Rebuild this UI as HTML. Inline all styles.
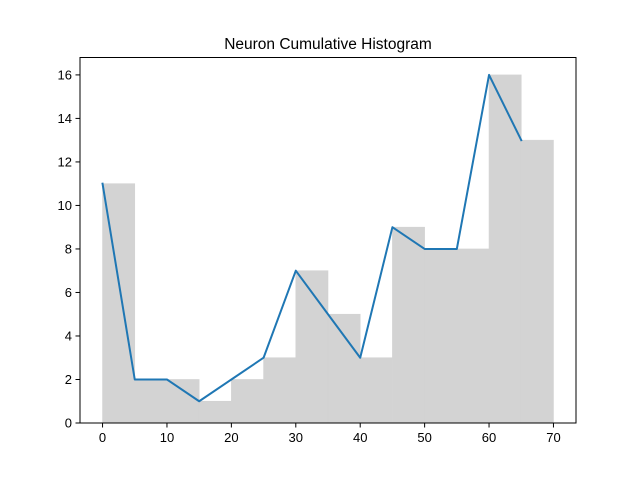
<!DOCTYPE html>
<html><head><meta charset="utf-8"><style>
body{margin:0;background:#fff;}
svg text{font-family:"Liberation Sans","DejaVu Sans",sans-serif;}
</style></head><body>
<svg id="chart" width="640" height="476" viewBox="0 0 640 476" xmlns="http://www.w3.org/2000/svg">
<rect x="0" y="0" width="640" height="476" fill="#fff"/>
<text x="328" y="49" text-anchor="middle" font-size="15.5" fill="#000">Neuron Cumulative Histogram</text>
<g id="bars"></g>
<g id="line"></g>
<g id="xticks"></g>
<g id="yticks"></g>
<rect x="80" y="57.5" width="496" height="365.5" fill="none" stroke="#000" stroke-width="1"/>
</svg>
<script>
const binStarts = [0,5,10,15,20,25,30,35,40,45,50,55,60,65];
const counts = [11,2,2,1,2,3,7,5,3,9,8,8,16,13];
const binWidth = 5;
const xTicks = [0,10,20,30,40,50,60,70];
const yTicks = [0,2,4,6,8,10,12,14,16];

const L=80,R=576,T=57.5,B=423;
const xMin=-3.5,xMax=73.5,yMin=0,yMax=16.8;
const xs=v=>L+(v-xMin)/(xMax-xMin)*(R-L);
const ys=v=>B-(v-yMin)/(yMax-yMin)*(B-T);
const NS="http://www.w3.org/2000/svg";
function mk(tag,attrs,parent){const e=document.createElementNS(NS,tag);for(const k in attrs)e.setAttribute(k,attrs[k]);parent.appendChild(e);return e;}

const gb=document.getElementById('bars');
binStarts.forEach((s,i)=>{
  const r=mk('rect',{x:xs(s),y:ys(counts[i]),width:xs(s+binWidth)-xs(s),height:ys(0)-ys(counts[i]),fill:'#d3d3d3',stroke:'#d3d3d3','stroke-width':0.6},gb);
  
  
});
const gl=document.getElementById('line');
const pts=binStarts.map((s,i)=>xs(s)+','+ys(counts[i])).join(' ');
const pl=mk('polyline',{points:pts,fill:'none',stroke:'#1f77b4','stroke-width':2,'stroke-linejoin':'round','stroke-linecap':'square'},gl);



const gx=document.getElementById('xticks');
xTicks.forEach(t=>{
  const x=xs(t);
  mk('line',{x1:x,x2:x,y1:B,y2:B+4.5,stroke:'#000','stroke-width':1},gx);
  const tx=mk('text',{x:x,y:B+19,'text-anchor':'middle','font-size':13,fill:'#000'},gx);
  tx.textContent=t;
  
  
});
const gy=document.getElementById('yticks');
yTicks.forEach(t=>{
  const y=ys(t);
  mk('line',{x1:L-4.5,x2:L,y1:y,y2:y,stroke:'#000','stroke-width':1},gy);
  const tx=mk('text',{x:L-8,y:y+4.5,'text-anchor':'end','font-size':13,fill:'#000'},gy);
  tx.textContent=t;
  
  
});
</script>
</body></html>
